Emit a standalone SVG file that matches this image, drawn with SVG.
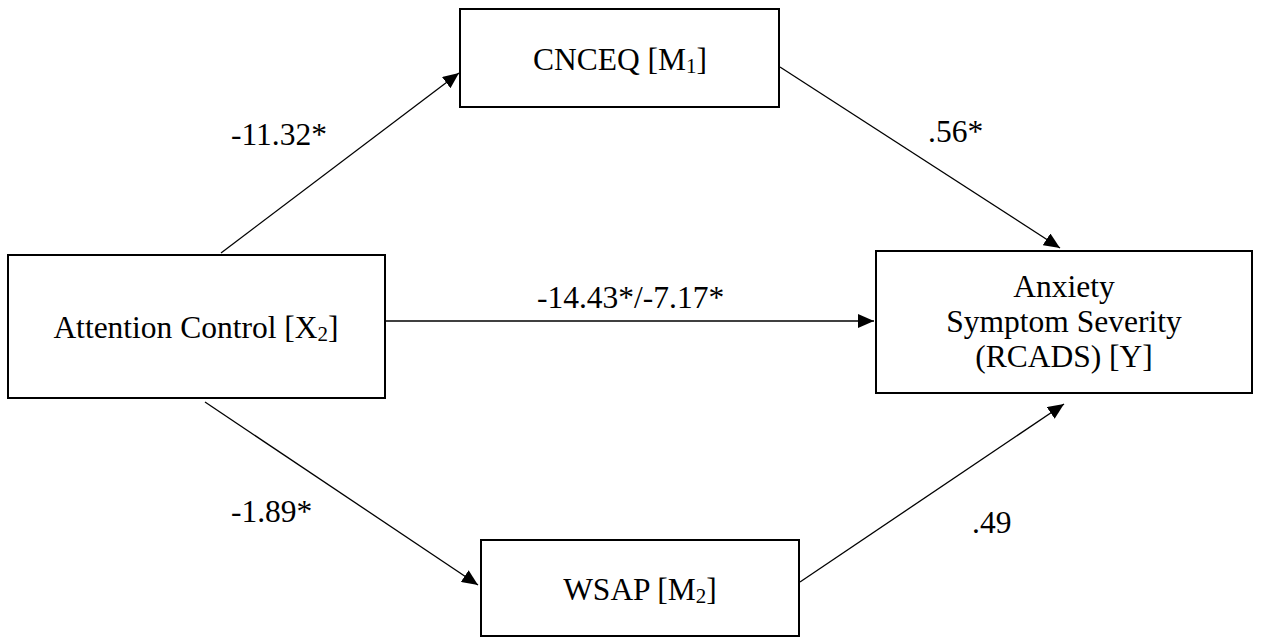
<svg xmlns="http://www.w3.org/2000/svg" width="1264" height="637" viewBox="0 0 1264 637">
<style>
.box{fill:#fff;stroke:#000;stroke-width:2}
.t{font-family:"Liberation Serif","Times New Roman",serif;font-size:31.5px;fill:#000}
.m{text-anchor:middle}
.sub{font-size:21px}
.c{stroke:#000;stroke-width:1.3;fill:none;marker-end:url(#ah)}
</style>
<defs>
<marker id="ah" viewBox="0 0 16 14" refX="16" refY="7" markerWidth="16" markerHeight="14" markerUnits="userSpaceOnUse" orient="auto">
<path d="M0,0 L16,7 L0,14 Z" fill="#000"/>
</marker>
</defs>
<rect width="1264" height="637" fill="#fff"/>
<g id="connectors">
<line class="c" x1="221" y1="253" x2="459" y2="73"/>
<line class="c" x1="780" y1="67" x2="1060" y2="248"/>
<line class="c" x1="386" y1="321" x2="874" y2="321"/>
<line class="c" x1="205" y1="402" x2="478" y2="585"/>
<line class="c" x1="800" y1="582" x2="1064" y2="404"/>
</g>
<g id="labels" font-family="Liberation Serif, Times New Roman, serif">
<text class="t" x="231" y="145">-11.32*</text>
<text class="t" x="928" y="142">.56*</text>
<text class="t" x="537" y="308">-14.43*/-7.17*</text>
<text class="t" x="231" y="522">-1.89*</text>
<text class="t" x="972" y="533">.49</text>
</g>
<g id="node-cnceq">
<rect class="box" x="460" y="9" width="319" height="98"/>
<text class="t m" x="620" y="70">CNCEQ [M<tspan class="sub" dy="3">1</tspan><tspan dy="-3">]</tspan></text>
</g>
<g id="node-attention">
<rect class="box" x="8" y="255" width="377" height="143"/>
<text class="t m" x="196" y="338">Attention Control [X<tspan class="sub" dy="3">2</tspan><tspan dy="-3">]</tspan></text>
</g>
<g id="node-anxiety">
<rect class="box" x="876" y="251" width="376" height="142"/>
<text class="t m" x="1064" y="297">Anxiety</text>
<text class="t m" x="1064" y="332">Symptom Severity</text>
<text class="t m" x="1064" y="367">(RCADS) [Y]</text>
</g>
<g id="node-wsap">
<rect class="box" x="481" y="540" width="318" height="96"/>
<text class="t m" x="640" y="600">WSAP [M<tspan class="sub" dy="3">2</tspan><tspan dy="-3">]</tspan></text>
</g>
</svg>
